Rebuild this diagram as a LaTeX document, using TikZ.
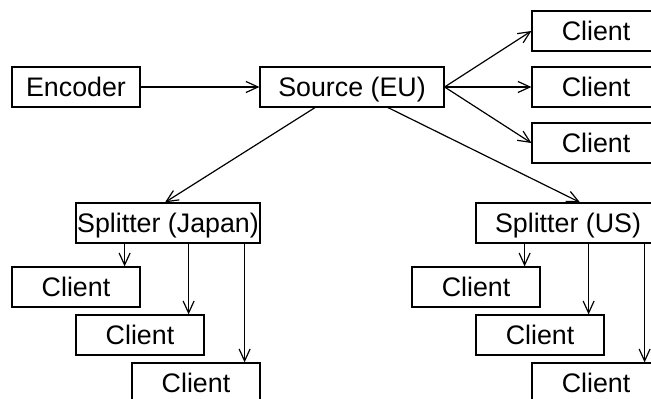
\documentclass[tikz,border=0pt]{standalone}
\usepackage{fontspec}
\setmainfont{Liberation Sans}
\usetikzlibrary{arrows.meta}

\tikzset{
    unit/.style={draw, line width=0.6pt, inner sep=0pt, minimum height=20pt,
                 minimum width=64pt, text height=9.8pt, text depth=0pt,
                 font=\fontsize{13.4}{15}\selectfont},
    wide/.style={unit, minimum width=92pt},
}

\begin{document}
\begin{tikzpicture}[>={Straight Barb[length=6pt,width=5.5pt]}, x=0.5pt, y=-0.5pt, line width=0.6pt]
        \useasboundingbox (0,0) rectangle (651,399);
        \clip (0,0) rectangle (651,399);
        % top row
        \node[unit] (enc) at (76,87) {Encoder};
        \node[wide] (src) at (352,87) {Source (EU)};
        \node[unit] (ca) at (596,31) {Client};
        \node[unit] (cb) at (596,87) {Client};
        \node[unit] (cc) at (596,143) {Client};
        % splitters
        \node[wide] (jp) at (168,223) {Splitter (Japan)};
        \node[wide] (us) at (568,223) {Splitter (US)};
        % clients under the splitters
        \node[unit] (jpa) at (76,287) {Client};
        \node[unit] (jpb) at (140,335) {Client};
        \node[unit] (jpc) at (196,383) {Client};
        \node[unit] (usa) at (476,287) {Client};
        \node[unit] (usb) at (540,335) {Client};
        \node[unit] (usc) at (596,383) {Client};

        \draw[->] (enc.east) -- (src.west);
        \foreach \c in {ca,cb,cc}
            \draw[->] (src.east) -- (\c.west);
        \draw[->] ([xshift=-18.5pt]src.south) -- ([xshift=-1.5pt]jp.north);
        \draw[->] ([xshift=18pt]src.south) -- ([xshift=6pt]us.north);
        \foreach \s/\c in {jp/jpa,jp/jpb,jp/jpc,us/usa,us/usb,us/usc}{
            \coordinate (\c-in) at ([xshift=-8pt]\c.north east);
            \draw[->] (\s.south -| \c-in) -- (\c-in);
        }
    \end{tikzpicture}
\end{document}
